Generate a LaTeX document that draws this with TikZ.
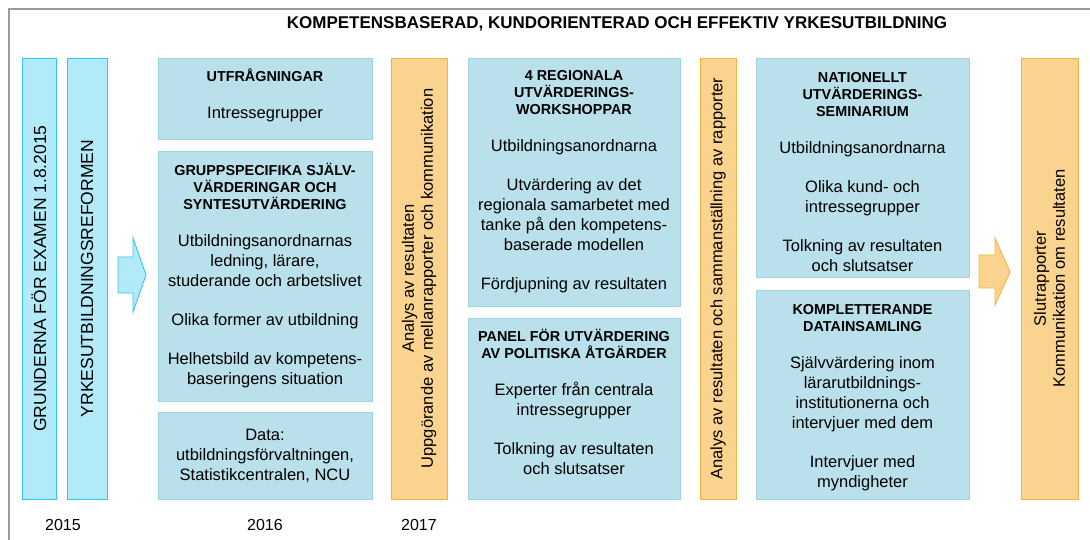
\documentclass[tikz,border=0pt]{standalone}
\usepackage{fontspec}
\setmainfont{Liberation Sans}
\definecolor{cfill}{HTML}{B3EAFA}
\definecolor{cline}{HTML}{33C6F0}
\definecolor{bfill}{HTML}{B9E0EB}
\definecolor{bline}{HTML}{9DD3E6}
\definecolor{ofill}{HTML}{FAD48F}
\definecolor{oline}{HTML}{F5B342}
\definecolor{frame}{HTML}{9A9A9A}
\newcommand{\hd}[1]{{\fontsize{14.4}{17}\selectfont\bfseries #1}}
% extra space at top (shifts content down) / at bottom (shifts content up)
\newcommand{\padtop}[1]{\mbox{}\\[#1]}
\newcommand{\padbot}[1]{\\[#1]\mbox{}}
\tikzset{
  body/.style={font=\fontsize{16.5}{20}\selectfont, align=center, text=black},
  cbox/.style={body, draw=cline, fill=cfill, line width=0.9pt, inner sep=0pt, font=\fontsize{17.5}{21}\selectfont},
  bbox/.style={body, draw=bline, fill=bfill, line width=0.9pt, inner sep=0pt},
  obox/.style={body, draw=oline, fill=ofill, line width=0.9pt, inner sep=0pt, font=\fontsize{16.5}{19}\selectfont},
  yr/.style={font=\fontsize{16}{19}\selectfont, text=black},
}
\begin{document}
\begin{tikzpicture}[x=1pt,y=-1pt]
\useasboundingbox (0,0) rectangle (1090,540);
% frame
\draw[frame, line width=1.6pt] (9,540) -- (9,9) -- (1090,9);
\node[font=\fontsize{17}{20}\selectfont\bfseries] (title) at (617,24) {KOMPETENSBASERAD, KUNDORIENTERAD OCH EFFEKTIV YRKESUTBILDNING};
% 2015
\node[cbox, rotate=90, minimum width=441pt, minimum height=34pt] (g1) at (39,278.5) {GRUNDERNA FÖR EXAMEN 1.8.2015};
\node[cbox, rotate=90, minimum width=441pt, minimum height=40pt] (g2) at (87,278.5) {YRKESUTBILDNINGSREFORMEN};
% blue arrow
\draw[draw=cline, fill=cfill, line width=0.9pt, line join=miter] (118,257) -- (133,257) -- (133,238) -- (146,275) -- (133,312) -- (133,293) -- (118,293) -- cycle;
% 2016
\node[bbox, minimum width=214pt, minimum height=81pt] (utf) at (265,98.5) {\hd{UTFRÅGNINGAR}\\[17pt]Intressegrupper\padbot{-11pt}};
\node[bbox, minimum width=214pt, minimum height=250pt] (grp) at (265,276) {\hd{GRUPPSPECIFIKA SJÄLV-}\\[-3pt]\hd{VÄRDERINGAR OCH}\\[-3pt]\hd{SYNTESUTVÄRDERING}\\[17pt]Utbildningsanordnarnas\\ledning, lärare,\\studerande och arbetslivet\\[19pt]Olika former av utbildning\\[19pt]Helhetsbild av kompetens-\\baseringens situation};
\node[bbox, minimum width=214pt, minimum height=87pt] (data) at (265,455.5) {Data:\\utbildningsförvaltningen,\\Statistikcentralen, NCU};
% 2017
\node[obox, rotate=90, minimum width=441pt, minimum height=56pt] (o1) at (419,278.5) {Analys av resultaten\\Uppgörande av mellanrapporter och kommunikation};
\node[bbox, minimum width=212pt, minimum height=248pt] (reg) at (574,182) {\hd{4 REGIONALA}\\[-3pt]\hd{UTVÄRDERINGS-}\\[-3pt]\hd{WORKSHOPPAR}\\[17pt]Utbildningsanordnarna\\[19pt]Utvärdering av det\\regionala samarbetet med\\tanke på den kompetens-\\baserade modellen\\[19pt]Fördjupning av resultaten};
\node[bbox, minimum width=212pt, minimum height=181pt] (pan) at (574,408.5) {\hd{PANEL FÖR UTVÄRDERING}\\[-3pt]\hd{AV POLITISKA ÅTGÄRDER}\\[17pt]Experter från centrala\\intressegrupper\\[19pt]Tolkning av resultaten\\och slutsatser\padbot{-6pt}};
\node[obox, rotate=90, minimum width=441pt, minimum height=36pt] (o2) at (718,278.5) {Analys av resultaten och sammanställning av rapporter};
\node[bbox, minimum width=213pt, minimum height=219pt] (nat) at (862.5,167.5) {\padtop{0pt}\hd{NATIONELLT}\\[-3pt]\hd{UTVÄRDERINGS-}\\[-3pt]\hd{SEMINARIUM}\\[17pt]Utbildningsanordnarna\\[19pt]Olika kund- och\\intressegrupper\\[19pt]Tolkning av resultaten\\och slutsatser};
\node[bbox, minimum width=213pt, minimum height=209pt] (kom) at (862.5,394.5) {\padtop{-4.5pt}\hd{KOMPLETTERANDE}\\[-3pt]\hd{DATAINSAMLING}\\[17pt]Självvärdering inom\\lärarutbildnings-\\institutionerna och\\intervjuer med dem\\[19pt]Intervjuer med\\myndigheter};
% orange arrow
\draw[draw=oline, fill=ofill, line width=0.9pt, line join=miter] (979,255) -- (995,255) -- (995,238) -- (1010,272) -- (995,305) -- (995,288) -- (979,288) -- cycle;
\node[obox, rotate=90, minimum width=441pt, minimum height=57pt] (o3) at (1049.5,278.5) {Slutrapporter\\Kommunikation om resultaten};
% years
\node[yr] (y15) at (63,525) {2015};
\node[yr] (y16) at (265,525) {2016};
\node[yr] (y17) at (419,525) {2017};
\end{tikzpicture}
\end{document}
